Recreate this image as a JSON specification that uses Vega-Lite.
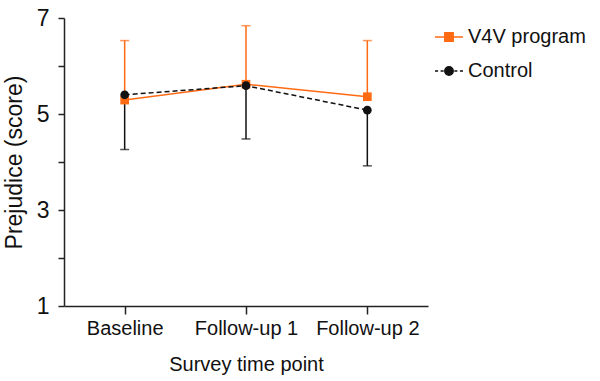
{
  "$schema": "https://vega.github.io/schema/vega-lite/v6.json",
  "autosize": {"type": "none"},
  "width": 364,
  "height": 288,
  "padding": {"left": 64, "top": 18, "right": 172, "bottom": 75},
  "background": "white",
  "config": {
    "view": {"stroke": null},
    "font": "Liberation Sans",
    "axis": {"domainColor": "#222", "domainWidth": 1.5, "tickColor": "#222", "tickWidth": 1.5, "labelColor": "#111", "titleColor": "#111", "titleFontWeight": "normal", "grid": false}
  },
  "data": {
    "values": [
      {"group": "V4V program", "time": "Baseline", "mean": 5.29, "err": 6.53},
      {"group": "V4V program", "time": "Follow-up 1", "mean": 5.62, "err": 6.84},
      {"group": "V4V program", "time": "Follow-up 2", "mean": 5.36, "err": 6.53},
      {"group": "Control", "time": "Baseline", "mean": 5.40, "err": 4.26},
      {"group": "Control", "time": "Follow-up 1", "mean": 5.59, "err": 4.48},
      {"group": "Control", "time": "Follow-up 2", "mean": 5.08, "err": 3.92}
    ]
  },
  "encoding": {
    "x": {"field": "time", "type": "ordinal", "sort": ["Baseline", "Follow-up 1", "Follow-up 2"],
      "scale": {"type": "point", "padding": 0.5},
      "axis": {"title": "Survey time point", "labelAngle": 0, "labelFontSize": 20, "titleFontSize": 20, "tickSize": 8, "labelPadding": 4, "titlePadding": 16}},
    "color": {"field": "group", "type": "nominal", "scale": {"domain": ["V4V program", "Control"], "range": ["#FF6A13", "#111111"]},
      "legend": {
        "title": null, "orient": "none", "legendX": 370, "legendY": 4,
        "symbolSize": 784, "labelFontSize": 20, "labelColor": "#111", "labelOffset": 4, "rowPadding": 9,
        "encode": {"symbols": {"update": {
          "fill": {"scale": "color", "field": "value"},
          "stroke": {"scale": "color", "field": "value"},
          "strokeWidth": {"value": 1.5},
          "opacity": {"value": 1},
          "fillOpacity": {"value": 1},
          "strokeOpacity": {"value": 1}
        }}}
      }
    }
  },
  "layer": [
    {
      "mark": {"type": "rule", "strokeWidth": 1.5},
      "encoding": {
        "y": {"field": "mean", "type": "quantitative", "scale": {"domain": [1, 7], "nice": false, "zero": false},
          "axis": {"title": "Prejudice (score)", "values": [1, 2, 3, 4, 5, 6, 7], "labelExpr": "datum.value % 2 == 1 ? datum.label : ''", "labelFontSize": 23, "titleFontSize": 23, "tickSize": 6, "labelPadding": 9, "titlePadding": 10}},
        "y2": {"field": "err"}
      }
    },
    {
      "mark": {"type": "tick", "size": 9, "thickness": 1.5},
      "encoding": {"y": {"field": "err", "type": "quantitative"}}
    },
    {
      "transform": [{"filter": "datum.group == 'V4V program'"}],
      "mark": {"type": "line", "strokeWidth": 1.5},
      "encoding": {"y": {"field": "mean", "type": "quantitative"}}
    },
    {
      "transform": [{"filter": "datum.group == 'Control'"}],
      "mark": {"type": "line", "strokeWidth": 1.5, "strokeDash": [5, 3]},
      "encoding": {"y": {"field": "mean", "type": "quantitative"}}
    },
    {
      "transform": [{"filter": "datum.group == 'V4V program'"}],
      "mark": {"type": "point", "shape": "square", "filled": true, "size": 75, "opacity": 1},
      "encoding": {"y": {"field": "mean", "type": "quantitative"}}
    },
    {
      "transform": [{"filter": "datum.group == 'Control'"}],
      "mark": {"type": "point", "shape": "circle", "filled": true, "size": 75, "opacity": 1},
      "encoding": {"y": {"field": "mean", "type": "quantitative"}}
    },
    {
      "mark": {"type": "point", "filled": true, "opacity": 0},
      "encoding": {
        "y": {"field": "mean", "type": "quantitative"},
        "shape": {"field": "group", "type": "nominal",
          "scale": {"domain": ["V4V program", "Control"], "range": ["M-1,0H1M-0.3,-0.3H0.3V0.3H-0.3Z", "M-1,0H-0.78M-0.6,0H-0.38M0.38,0H0.6M0.78,0H1M0.3,0A0.3,0.3 0 1 1 -0.3,0A0.3,0.3 0 1 1 0.3,0Z"]}
        }
      }
    }
  ]
}
